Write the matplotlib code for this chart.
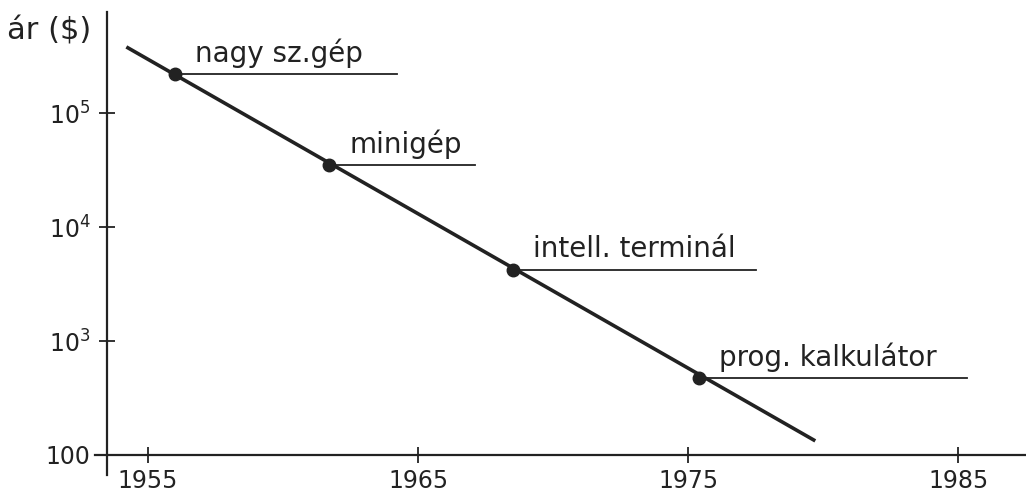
import numpy as np
import matplotlib
matplotlib.use("Agg")
import matplotlib.pyplot as plt

# adatok
labels = ["nagy sz.gép", "minigép", "intell. terminál", "prog. kalkulátor"]
years = [1956.0, 1961.7, 1968.5, 1975.4]
prices = [2.2e5, 3.5e4, 4.2e3, 4.7e2]
label_line_end = [1964.2, 1967.1, 1977.5, 1985.3]

trend_years = [1954.2, 1979.7]
trend_prices = [3.8e5, 1.33e2]

xticks = [1955, 1965, 1975, 1985]
yticks = [1e2, 1e3, 1e4, 1e5]
ytick_labels = ["100", r"$10^3$", r"$10^4$", r"$10^5$"]

ink = "#222222"
plt.rcParams["font.family"] = ["DejaVu Sans"]

fig = plt.figure(figsize=(10.26, 5.01), dpi=100)
ax = fig.add_axes([0.0926, 0.052, 0.9074, 0.924])

ax.set_yscale("log")
ax.set_xlim(1953.04, 1987.5)
ax.set_ylim(10 ** 1.825, 10 ** 5.886)

ax.plot(trend_years, trend_prices, color=ink, lw=2.6, solid_capstyle="butt")
ax.plot(years, prices, "o", color=ink, ms=9)

for lab, x, y, x2 in zip(labels, years, prices, label_line_end):
    ax.plot([x, x2], [y, y], color=ink, lw=1.3)
    ax.text(x + 0.75, y * 1.14, lab, fontsize=20, color=ink, ha="left", va="bottom")

for s in ["top", "right"]:
    ax.spines[s].set_visible(False)
ax.spines["left"].set_position(("data", 1953.5))
ax.spines["bottom"].set_position(("data", 100))
for s in ["left", "bottom"]:
    ax.spines[s].set_color(ink)
    ax.spines[s].set_linewidth(1.6)

ax.set_xticks(xticks)
ax.set_xticklabels([str(t) for t in xticks])
ax.set_yticks(yticks)
ax.set_yticklabels(ytick_labels)
ax.minorticks_off()
ax.tick_params(direction="inout", length=12, width=1.3, color=ink,
               labelsize=17, labelcolor=ink)
ax.tick_params(axis="y", pad=6)
ax.tick_params(axis="x", pad=4)

ax.text(-0.095, 0.96, "ár ($)", transform=ax.transAxes, fontsize=22,
        color=ink, ha="left", va="center")

fig.savefig("out.png", dpi=100)
